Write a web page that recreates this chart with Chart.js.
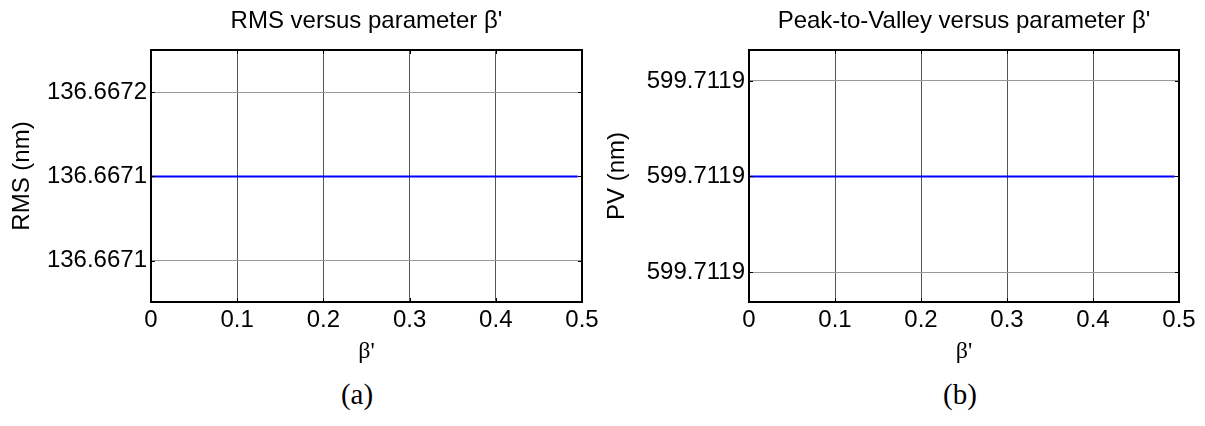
<!DOCTYPE html>
<html>
<head>
<meta charset="utf-8">
<script src="https://cdn.jsdelivr.net/npm/chart.js@4"></script>
<style>
  body { margin: 0; background: #fff; }
  #wrap { position: relative; width: 1205px; height: 426px; }
  canvas { position: absolute; top: 0; }
  .cap { position: absolute; top: 378px; font: 29px "Liberation Serif", "Times New Roman", serif; transform: translateX(-50%); }
</style>
</head>
<body>
<div id="wrap">
  <canvas id="rms" style="left:0"></canvas>
  <canvas id="pv" style="left:602px"></canvas>
  <div class="cap" style="left:357px">(a)</div>
  <div class="cap" style="left:960px">(b)</div>
</div>
<script>
// beta' sample points and the (constant) values
const beta = [0, 0.05, 0.1, 0.15, 0.2, 0.25, 0.3, 0.35, 0.4, 0.45, 0.495];
const rmsVals = [136.6671, 136.6671, 136.6671, 136.6671, 136.6671, 136.6671, 136.6671, 136.6671, 136.6671, 136.6671, 136.6671];
const pvVals = [599.7119, 599.7119, 599.7119, 599.7119, 599.7119, 599.7119, 599.7119, 599.7119, 599.7119, 599.7119, 599.7119];

const rmsTicks = [136.66705, 136.6671, 136.66715];
const rmsTickLabels = ['136.6671', '136.6671', '136.6672'];
const rmsMin = 136.6670255, rmsMax = 136.667175;

const pvTicks = [599.71185, 599.7119, 599.71195];
const pvTickLabels = ['599.7119', '599.7119', '599.7119'];
const pvMin = 599.7118343, pvMax = 599.7119662;

const xTicks = [0, 0.1, 0.2, 0.3, 0.4, 0.5];
const xTickLabels = ['0', '0.1', '0.2', '0.3', '0.4', '0.5'];

Chart.defaults.font.family = '"Liberation Sans", Arial, sans-serif';
Chart.defaults.font.size = 24;
Chart.defaults.color = '#000';

// matlab style box with inward tick marks
const boxPlugin = {
    id: 'box',
    afterDraw(chart) {
        const { ctx, chartArea: a, scales } = chart;
        ctx.save();
        ctx.strokeStyle = '#000';
        ctx.lineWidth = 1;
        ctx.beginPath();
        scales.x.ticks.forEach(t => {
            const px = Math.round(scales.x.getPixelForValue(t.value)) + 0.5;
            ctx.moveTo(px, a.bottom); ctx.lineTo(px, a.bottom - 4);
            ctx.moveTo(px, a.top); ctx.lineTo(px, a.top + 4);
        });
        scales.y.ticks.forEach(t => {
            const py = Math.round(scales.y.getPixelForValue(t.value)) + 0.5;
            ctx.moveTo(a.left, py); ctx.lineTo(a.left + 4, py);
            ctx.moveTo(a.right, py); ctx.lineTo(a.right - 4, py);
        });
        ctx.stroke();
        ctx.lineWidth = 2;
        ctx.strokeRect(a.left, a.top, a.right - a.left, a.bottom - a.top);
        ctx.restore();
    }
};

function makePlot(id, width, title, ylabel, vals, yTicks, yLabels, yMin, yMax, yWidth, padRight, yTitlePad) {
    const el = document.getElementById(id);
    el.width = width;
    el.height = 370;
    return new Chart(el, {
        type: 'line',
        data: {
            datasets: [{
                data: beta.map((b, i) => ({ x: b, y: vals[i] })),
                borderColor: '#0000ff',
                borderWidth: 2,
                pointRadius: 0,
                tension: 0
            }]
        },
        options: {
            responsive: false,
            animation: false,
            layout: { padding: { left: 0, right: padRight, top: 0, bottom: 0 } },
            plugins: {
                legend: { display: false },
                tooltip: { enabled: false },
                title: {
                    display: true,
                    fullSize: false,
                    text: title,
                    font: { size: 24, weight: 'normal' },
                    color: '#000',
                    padding: { top: 6.6, bottom: 14.6 }
                }
            },
            scales: {
                x: {
                    type: 'linear',
                    min: 0,
                    max: 0.5,
                    afterBuildTicks: s => { s.ticks = xTicks.map(v => ({ value: v })); },
                    afterFit: s => { s.height = 68; s.paddingLeft = 0; s.paddingRight = 0; },
                    ticks: {
                        padding: 4,
                        maxRotation: 0,
                        autoSkip: false,
                        callback: (v, i) => xTickLabels[i]
                    },
                    grid: { color: '#555', lineWidth: 1, drawTicks: false },
                    border: { display: false },
                    title: {
                        display: true,
                        text: "\u03b2'",
                        font: { family: '"Liberation Serif", "Times New Roman", serif', size: 24 },
                        padding: { top: 0, bottom: 3.6 }
                    }
                },
                y: {
                    min: yMin,
                    max: yMax,
                    afterBuildTicks: s => { s.ticks = yTicks.map(v => ({ value: v })); },
                    afterFit: s => { s.width = yWidth; s.paddingTop = 0; s.paddingBottom = 0; },
                    ticks: {
                        padding: 4,
                        autoSkip: false,
                        callback: (v, i) => yLabels[i]
                    },
                    grid: { color: '#999', lineWidth: 1, drawTicks: false },
                    border: { display: false },
                    title: {
                        display: true,
                        text: ylabel,
                        padding: { top: yTitlePad, bottom: 0 }
                    }
                }
            }
        },
        plugins: [boxPlugin]
    });
}

makePlot('rms', 602, "RMS versus parameter \u03b2'", 'RMS (nm)', rmsVals,
    rmsTicks, rmsTickLabels, rmsMin, rmsMax, 151, 20, 8);
makePlot('pv', 603, "Peak-to-Valley versus parameter \u03b2'", 'PV (nm)', pvVals,
    pvTicks, pvTickLabels, pvMin, pvMax, 147, 26, 1);
</script>
</body>
</html>
